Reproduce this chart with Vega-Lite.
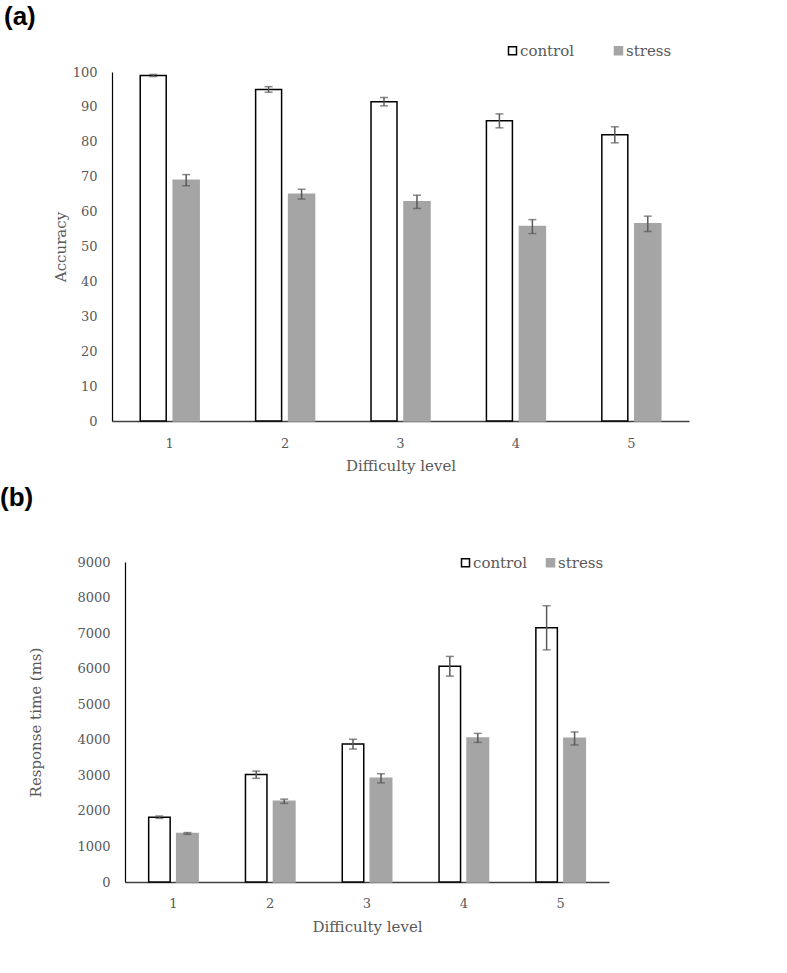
{
  "$schema": "https://vega.github.io/schema/vega-lite/v6.json",
  "background": "white",
  "padding": {"left": 0, "top": 3, "right": 5, "bottom": 5},
  "spacing": 12,
  "datasets": {
    "acc": [
      {"level": "1", "group": "control", "mean": 99.0, "lo": 98.7, "hi": 99.3},
      {"level": "1", "group": "stress", "mean": 69.0, "lo": 67.4, "hi": 70.6},
      {"level": "2", "group": "control", "mean": 95.0, "lo": 94.2, "hi": 95.8},
      {"level": "2", "group": "stress", "mean": 65.0, "lo": 63.6, "hi": 66.4},
      {"level": "3", "group": "control", "mean": 91.5, "lo": 90.3, "hi": 92.7},
      {"level": "3", "group": "stress", "mean": 62.8, "lo": 60.9, "hi": 64.7},
      {"level": "4", "group": "control", "mean": 86.0, "lo": 84.0, "hi": 88.0},
      {"level": "4", "group": "stress", "mean": 55.7, "lo": 53.7, "hi": 57.7},
      {"level": "5", "group": "control", "mean": 82.0, "lo": 79.7, "hi": 84.3},
      {"level": "5", "group": "stress", "mean": 56.5, "lo": 54.3, "hi": 58.7}
    ],
    "rt": [
      {"level": "1", "group": "control", "mean": 1823, "lo": 1790, "hi": 1856},
      {"level": "1", "group": "stress", "mean": 1365, "lo": 1340, "hi": 1390},
      {"level": "2", "group": "control", "mean": 3020, "lo": 2915, "hi": 3120},
      {"level": "2", "group": "stress", "mean": 2270, "lo": 2210, "hi": 2330},
      {"level": "3", "group": "control", "mean": 3880, "lo": 3740, "hi": 4015},
      {"level": "3", "group": "stress", "mean": 2915, "lo": 2790, "hi": 3045},
      {"level": "4", "group": "control", "mean": 6070, "lo": 5790, "hi": 6345},
      {"level": "4", "group": "stress", "mean": 4050, "lo": 3925, "hi": 4180},
      {"level": "5", "group": "control", "mean": 7150, "lo": 6530, "hi": 7770},
      {"level": "5", "group": "stress", "mean": 4040, "lo": 3855, "hi": 4220}
    ]
  },
  "config": {
    "view": {"stroke": null},
    "axis": {
      "labelFont": "DejaVu Serif", "labelFontSize": 13, "labelColor": "#595959",
      "titleFont": "DejaVu Serif", "titleFontSize": 15, "titleColor": "#595959", "titleFontWeight": "normal",
      "grid": false, "ticks": false, "labelOverlap": false
    },
    "legend": {
      "labelFont": "DejaVu Serif", "labelFontSize": 15, "labelColor": "#595959"
    },
    "title": {
      "font": "Liberation Sans", "fontSize": 26, "fontWeight": "bold", "color": "black",
      "anchor": "start", "frame": "group"
    }
  },
  "vconcat": [
    {
      "width": 577,
      "height": 349,
      "title": {"text": "(a)", "dx": -108, "offset": 13.5},
      "data": {"name": "acc"},
      "encoding": {
        "x": {"field": "level", "type": "nominal", "scale": {"paddingInner": 0, "paddingOuter": 0},
          "axis": {"title": "Difficulty level", "labelAngle": 0, "labelPadding": 16, "titlePadding": 8, "domainColor": "#404040", "domainWidth": 1.5}},
        "xOffset": {"field": "group", "type": "nominal", "scale": {"domain": ["control", "stress"], "range": [0, 115.4], "paddingInner": 0.212, "paddingOuter": 0.856}}
      },
      "layer": [
        {
          "mark": {"type": "bar", "strokeWidth": 1.5},
          "encoding": {
            "y": {"field": "mean", "type": "quantitative", "scale": {"domain": [0, 100], "nice": false},
              "axis": {"title": "Accuracy", "values": [0,10,20,30,40,50,60,70,80,90,100], "labelOverlap": false, "labelPadding": 15, "titlePadding": 4, "domainColor": "#000000", "domainWidth": 1.2}},
            "fill": {"field": "group", "type": "nominal", "scale": {"domain": ["control", "stress"], "range": ["#ffffff", "#a5a5a5"]},
              "legend": {"title": null, "orient": "none", "legendX": 393, "legendY": -29, "direction": "horizontal", "symbolType": "square", "symbolSize": 64, "symbolStrokeWidth": 1.5, "columnPadding": 36, "labelOffset": 0}},
            "stroke": {"field": "group", "type": "nominal", "scale": {"domain": ["control", "stress"], "range": ["#000000", "#a5a5a5"]}, "legend": null}
          }
        },
        {
          "mark": {"type": "rule", "color": "#595959", "strokeWidth": 1.5},
          "encoding": {"y": {"field": "lo", "type": "quantitative",
              "axis": {"title": "Accuracy", "values": [0,10,20,30,40,50,60,70,80,90,100], "labelOverlap": false, "labelPadding": 15, "titlePadding": 4, "domainColor": "#000000", "domainWidth": 1.2}}, "y2": {"field": "hi"}}
        },
        {
          "mark": {"type": "tick", "color": "#595959", "thickness": 1.5, "size": 8},
          "encoding": {"y": {"field": "lo", "type": "quantitative",
              "axis": {"title": "Accuracy", "values": [0,10,20,30,40,50,60,70,80,90,100], "labelOverlap": false, "labelPadding": 15, "titlePadding": 4, "domainColor": "#000000", "domainWidth": 1.2}}}
        },
        {
          "mark": {"type": "tick", "color": "#595959", "thickness": 1.5, "size": 8},
          "encoding": {"y": {"field": "hi", "type": "quantitative",
              "axis": {"title": "Accuracy", "values": [0,10,20,30,40,50,60,70,80,90,100], "labelOverlap": false, "labelPadding": 15, "titlePadding": 4, "domainColor": "#000000", "domainWidth": 1.2}}}
        }
      ]
    },
    {
      "width": 497,
      "height": 320,
      "title": {"text": "(b)", "dx": -112, "offset": 44},
      "data": {"name": "rt"},
      "encoding": {
        "x": {"field": "level", "type": "nominal", "scale": {"paddingInner": 0, "paddingOuter": 0, "range": [13, 497]},
          "axis": {"title": "Difficulty level", "labelAngle": 0, "labelPadding": 15, "titlePadding": 9, "domainColor": "#404040", "domainWidth": 1.5}},
        "xOffset": {"field": "group", "type": "nominal", "scale": {"domain": ["control", "stress"], "range": [0, 96.8], "paddingInner": 0.232, "paddingOuter": 0.846}}
      },
      "layer": [
        {
          "mark": {"type": "bar", "strokeWidth": 1.5},
          "encoding": {
            "y": {"field": "mean", "type": "quantitative", "scale": {"domain": [0, 9000], "nice": false},
              "axis": {"title": "Response time (ms)", "offset": -13, "values": [0,1000,2000,3000,4000,5000,6000,7000,8000,9000], "labelOverlap": false, "format": "d", "labelPadding": 15, "titlePadding": 33, "domainColor": "#000000", "domainWidth": 1.2}},
            "fill": {"field": "group", "type": "nominal", "scale": {"domain": ["control", "stress"], "range": ["#ffffff", "#a5a5a5"]},
              "legend": {"title": null, "orient": "none", "legendX": 346, "legendY": -7, "direction": "horizontal", "symbolType": "square", "symbolSize": 64, "symbolStrokeWidth": 1.5, "columnPadding": 15, "labelOffset": 0}},
            "stroke": {"field": "group", "type": "nominal", "scale": {"domain": ["control", "stress"], "range": ["#000000", "#a5a5a5"]}, "legend": null}
          }
        },
        {
          "mark": {"type": "rule", "color": "#595959", "strokeWidth": 1.5},
          "encoding": {"y": {"field": "lo", "type": "quantitative",
              "axis": {"title": "Response time (ms)", "offset": -13, "values": [0,1000,2000,3000,4000,5000,6000,7000,8000,9000], "labelOverlap": false, "format": "d", "labelPadding": 15, "titlePadding": 33, "domainColor": "#000000", "domainWidth": 1.2}}, "y2": {"field": "hi"}}
        },
        {
          "mark": {"type": "tick", "color": "#595959", "thickness": 1.5, "size": 8},
          "encoding": {"y": {"field": "lo", "type": "quantitative",
              "axis": {"title": "Response time (ms)", "offset": -13, "values": [0,1000,2000,3000,4000,5000,6000,7000,8000,9000], "labelOverlap": false, "format": "d", "labelPadding": 15, "titlePadding": 33, "domainColor": "#000000", "domainWidth": 1.2}}}
        },
        {
          "mark": {"type": "tick", "color": "#595959", "thickness": 1.5, "size": 8},
          "encoding": {"y": {"field": "hi", "type": "quantitative",
              "axis": {"title": "Response time (ms)", "offset": -13, "values": [0,1000,2000,3000,4000,5000,6000,7000,8000,9000], "labelOverlap": false, "format": "d", "labelPadding": 15, "titlePadding": 33, "domainColor": "#000000", "domainWidth": 1.2}}}
        }
      ]
    }
  ],
  "resolve": {"scale": {"fill": "independent", "stroke": "independent", "xOffset": "independent", "x": "independent", "y": "independent"}}
}
